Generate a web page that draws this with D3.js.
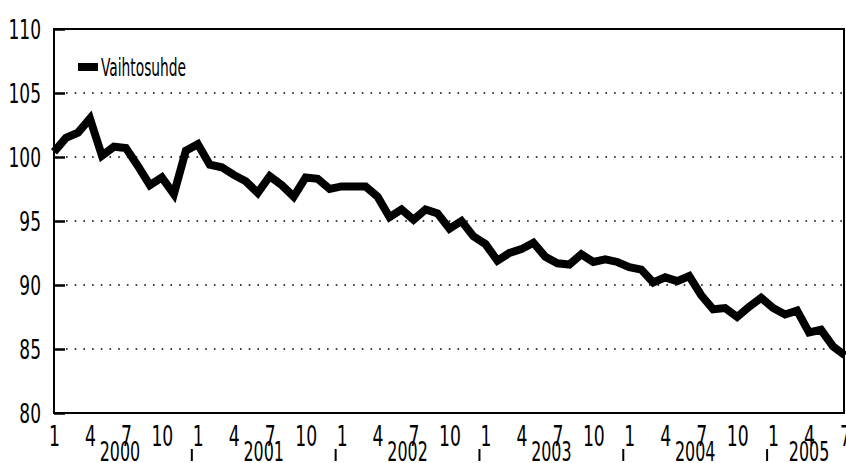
<!DOCTYPE html>
<html>
<head>
<meta charset="utf-8">
<script src="https://cdn.jsdelivr.net/npm/d3@7"></script>
<style>
  body { margin: 0; background: #fff; }
  svg text { font-family: 'DejaVu Sans Condensed', 'Liberation Sans Narrow', sans-serif; fill: #000; }
</style>
</head>
<body>
<svg id="chart"></svg>
<script>
// monthly index, Jan 2000 .. Jul 2005
const vaihtosuhde = [
  100.4, 101.5, 101.9, 103.0, 100.1, 100.8, 100.7, 99.3, 97.8, 98.4, 97.1, 100.5,
  101.0, 99.4, 99.2, 98.6, 98.1, 97.2, 98.5, 97.8, 96.9, 98.4, 98.3, 97.5,
  97.7, 97.7, 97.7, 96.9, 95.3, 95.9, 95.1, 95.9, 95.6, 94.4, 95.0, 93.8,
  93.2, 91.9, 92.5, 92.8, 93.3, 92.2, 91.7, 91.6, 92.4, 91.8, 92.0, 91.8,
  91.4, 91.2, 90.2, 90.6, 90.3, 90.7, 89.2, 88.1, 88.2, 87.5, 88.3, 89.0,
  88.2, 87.7, 88.0, 86.3, 86.5, 85.2, 84.5
]
const years = ["2000", "2001", "2002", "2003", "2004", "2005"]
const yTicks = [80, 85, 90, 95, 100, 105, 110]
const seriesName = "Vaihtosuhde"

const width = 846, height = 463
const margin = { top: 29, right: 1, bottom: 50, left: 54 }

const svg = d3.select("#chart")
              .attr("width", width)
              .attr("height", height)

const x = d3.scaleLinear()
            .domain([0, vaihtosuhde.length - 1])
            .range([margin.left, width - margin.right])

const y = d3.scaleLinear()
            .domain([80, 110])
            .range([height - margin.bottom, margin.top])

// narrow text: the original uses a tall condensed face
function squeeze(sel, sx) {
  sel.each(function() {
    const t = d3.select(this)
    const tx = +t.attr("x") || 0
    const ty = +t.attr("y") || 0
    t.attr("x", null).attr("y", null)
     .attr("transform", "translate(" + tx + "," + ty + ") scale(" + sx + ",1)")
  })
}

// dotted grid lines
svg.append("g")
   .selectAll("line")
   .data(yTicks.filter(d => d > 80 && d < 110))
   .join("line")
   .attr("x1", margin.left + 12)
   .attr("x2", width - margin.right - 2)
   .attr("y1", d => y(d))
   .attr("y2", d => y(d))
   .attr("stroke", "#000")
   .attr("stroke-width", 1.6)
   .attr("stroke-dasharray", "1.6,7.1")

// y axis
const yAxis = svg.append("g")
                 .attr("transform", "translate(" + margin.left + ",0)")
                 .call(d3.axisRight(y).tickValues(yTicks).tickSize(11).tickFormat(d => d))
yAxis.select(".domain").remove()
yAxis.selectAll("line").attr("stroke", "#000").attr("stroke-width", 2.5)
yAxis.selectAll("text")
     .attr("x", -13)
     .attr("y", 9)
     .attr("dy", null)
     .attr("text-anchor", "end")
     .attr("font-size", 27)
     .call(squeeze, 0.7)

// frame
svg.append("rect")
   .attr("x", margin.left)
   .attr("y", margin.top)
   .attr("width", width - margin.right - margin.left - 1)
   .attr("height", height - margin.bottom - margin.top)
   .attr("fill", "none")
   .attr("stroke", "#000")
   .attr("stroke-width", 2)

// month ticks
const xAxis = svg.append("g")
                 .attr("transform", "translate(0," + (height - margin.bottom) + ")")
                 .call(d3.axisBottom(x)
                         .tickValues(d3.range(0, vaihtosuhde.length, 3))
                         .tickSize(0)
                         .tickFormat(i => (i % 12) + 1))
xAxis.select(".domain").remove()
xAxis.selectAll("text")
     .attr("y", 33)
     .attr("dy", null)
     .attr("font-size", 29)
     .call(squeeze, 0.66)

// year labels, centred on the months of each year
const nMonths = vaihtosuhde.length
svg.append("g")
   .selectAll("text")
   .data(years)
   .join("text")
   .attr("x", (d, k) => {
      const first = k * 12
      const last = Math.min(first + 11, nMonths - 1)
      return x((first + last) / 2)
   })
   .attr("y", 461)
   .attr("text-anchor", "middle")
   .attr("font-size", 26)
   .text(d => d)
   .call(squeeze, 0.68)

// year separators
svg.append("g")
   .selectAll("line")
   .data(years.slice(1))
   .join("line")
   .attr("x1", (d, k) => x((k + 1) * 12 - 0.5))
   .attr("x2", (d, k) => x((k + 1) * 12 - 0.5))
   .attr("y1", 449)
   .attr("y2", 461)
   .attr("stroke", "#000")
   .attr("stroke-width", 2)

// series line
const line = d3.line()
               .x((d, i) => x(i))
               .y(d => y(d))

svg.append("path")
   .datum(vaihtosuhde)
   .attr("d", line)
   .attr("fill", "none")
   .attr("stroke", "#000")
   .attr("stroke-width", 8)
   .attr("stroke-linejoin", "miter")

// legend
svg.append("rect")
   .attr("x", 78)
   .attr("y", 63)
   .attr("width", 20)
   .attr("height", 8)
   .attr("fill", "#000")
svg.append("text")
   .attr("x", 101)
   .attr("y", 76)
   .attr("font-size", 24)
   .text(seriesName)
   .call(squeeze, 0.64)
</script>
</body>
</html>
